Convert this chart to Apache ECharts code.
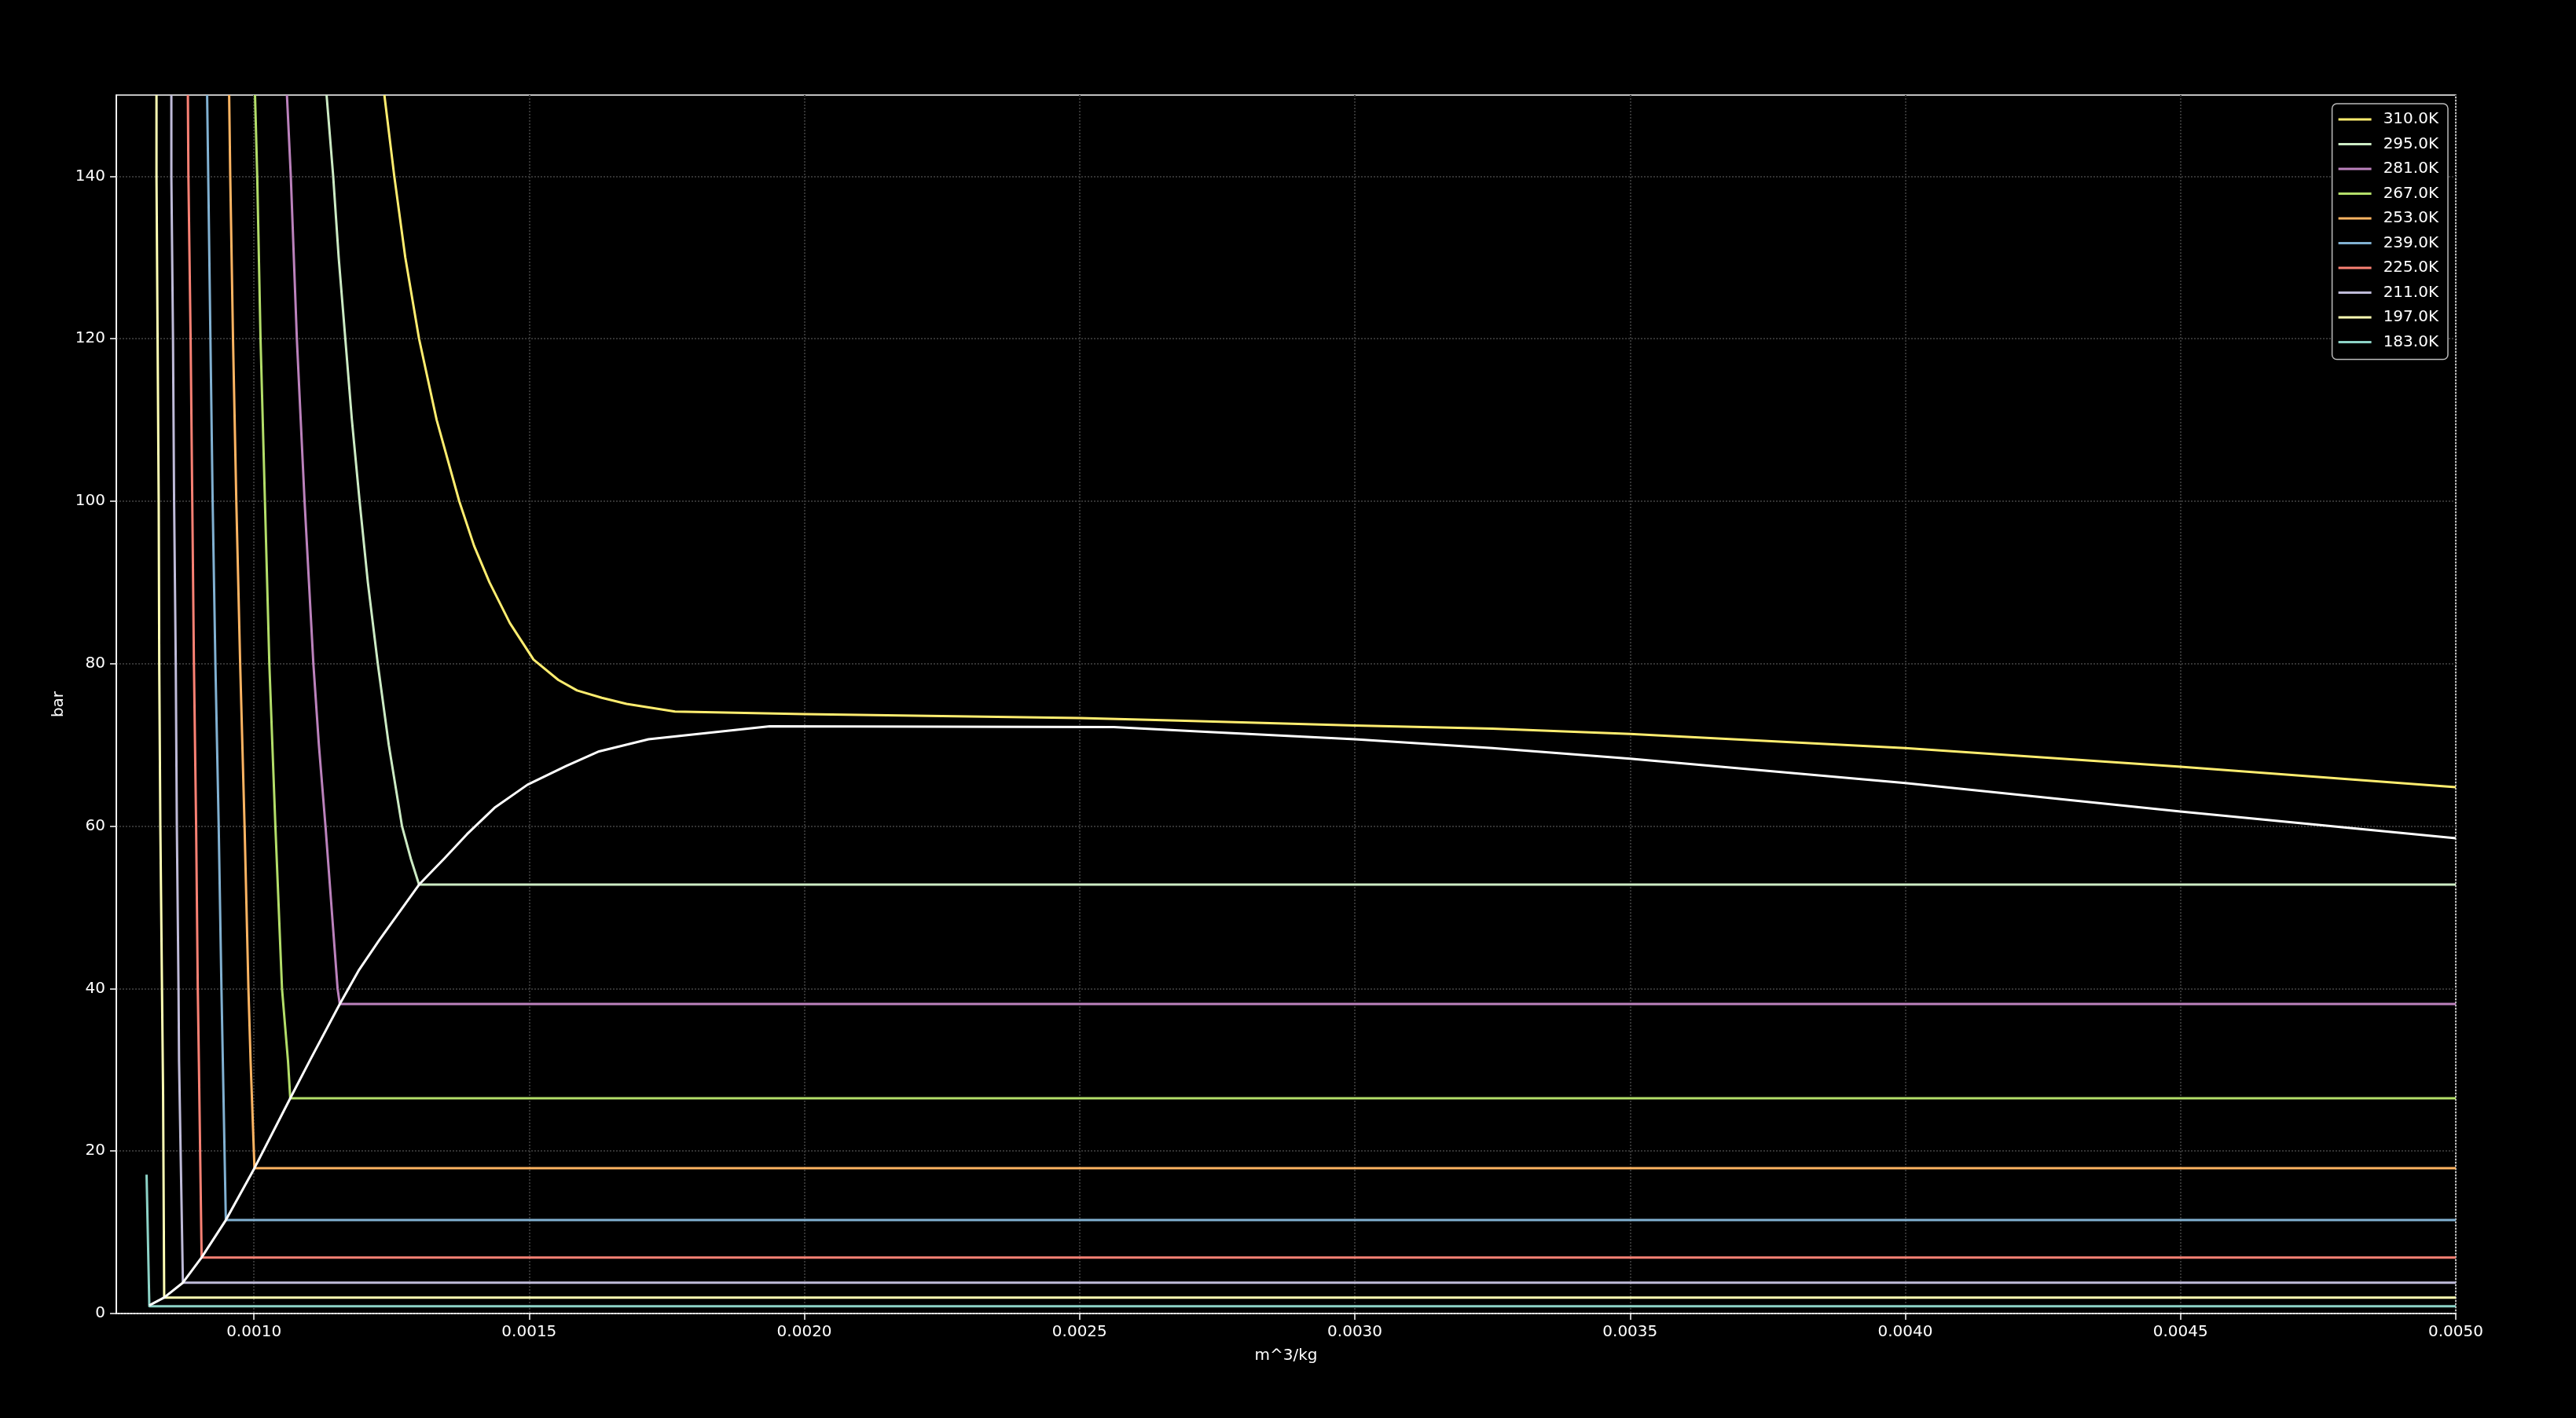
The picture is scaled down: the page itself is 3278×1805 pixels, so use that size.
<!DOCTYPE html>
<html>
<head>
<meta charset="utf-8">
<script src="https://cdn.jsdelivr.net/npm/echarts@6/dist/echarts.min.js"></script>
<style>
  html, body { margin: 0; padding: 0; background: #000; }
  #chart { width: 3278px; height: 1805px; }
</style>
</head>
<body>
<div id="chart"></div>
<script>
// isotherm names, in plotting order
const temps = ['183.0K', '197.0K', '211.0K', '225.0K', '239.0K', '253.0K', '267.0K', '281.0K', '295.0K', '310.0K'];
const palette = ['#8dd3c7', '#feffb3', '#bfbbd9', '#fa8174', '#81b1d2', '#fdb462', '#b3de69', '#bc82bd', '#ccebc4', '#ffed6f'];

// [specific volume m^3/kg, pressure bar]
const iso183 = [[0.000805, 17.1], [0.00081, 0.9], [0.005, 0.9]];
const iso197 = [[0.000823, 150], [0.000823, 140], [0.000825, 120], [0.000827, 100], [0.000828, 80], [0.00083, 60], [0.000833, 40], [0.000835, 27], [0.000837, 1.97], [0.005, 1.97]];
const iso211 = [[0.00085, 150], [0.00085, 140], [0.000853, 120], [0.000855, 100], [0.000858, 80], [0.00086, 60], [0.000863, 40], [0.000864, 31], [0.000871, 3.8], [0.005, 3.8]];
const iso225 = [[0.00088, 150], [0.000881, 140], [0.000885, 120], [0.000888, 100], [0.000891, 80], [0.000895, 60], [0.000898, 40], [0.0009, 31], [0.000905, 6.9], [0.005, 6.9]];
const iso239 = [[0.000915, 150], [0.000917, 140], [0.000921, 120], [0.000925, 100], [0.00093, 80], [0.000936, 60], [0.000941, 40], [0.000949, 11.5], [0.005, 11.5]];
const iso253 = [[0.000955, 150], [0.000957, 140], [0.000962, 120], [0.000968, 100], [0.000975, 80], [0.000983, 60], [0.00099, 40], [0.000994, 31], [0.001001, 17.9], [0.005, 17.9]];
const iso267 = [[0.001002, 150], [0.001006, 140], [0.001012, 120], [0.00102, 100], [0.001028, 80], [0.001039, 60], [0.001051, 40], [0.001062, 31], [0.001066, 26.5], [0.005, 26.5]];
const iso281 = [[0.00106, 150], [0.001067, 140], [0.001078, 120], [0.001085, 110], [0.001092, 100], [0.0011, 90], [0.001108, 80], [0.001118, 70],
  [0.00113, 60], [0.001141, 50], [0.001152, 40], [0.001156, 38.1], [0.005, 38.1]];
const iso295 = [[0.001132, 150], [0.001144, 140], [0.001154, 130], [0.001166, 120], [0.001178, 110], [0.001192, 100], [0.001207, 90],
  [0.001225, 80], [0.001245, 70], [0.001269, 60], [0.001285, 56], [0.0013, 52.8], [0.005, 52.8]];
const iso310 = [[0.001237, 150], [0.001255, 140], [0.001275, 130], [0.0013, 120], [0.001332, 110], [0.001373, 100], [0.0014, 94.5],
  [0.001428, 90], [0.001465, 85], [0.001508, 80.5], [0.001553, 78], [0.001587, 76.7], [0.001632, 75.8], [0.001677, 75.05], [0.001765, 74.1],
  [0.002, 73.8], [0.0025, 73.3], [0.002679, 73.0], [0.003, 72.4], [0.00325, 72.0], [0.0035, 71.35], [0.004, 69.6], [0.0045, 67.3], [0.005, 64.8]];

// saturation dome
const dome = [[0.00081, 1.0], [0.000837, 1.97], [0.000871, 3.8], [0.000905, 6.9], [0.000949, 11.5], [0.001001, 17.9],
  [0.001066, 26.5], [0.001102, 31.2], [0.001156, 38.1], [0.00119, 42.2], [0.001227, 45.9], [0.0013, 52.8], [0.001347, 56.1],
  [0.001387, 59.0], [0.001437, 62.25], [0.001497, 65.1], [0.001567, 67.4], [0.001627, 69.2], [0.001717, 70.7], [0.001937, 72.3],
  [0.002562, 72.2], [0.002735, 71.6], [0.003, 70.7], [0.00325, 69.6], [0.0035, 68.3], [0.004, 65.3], [0.0045, 61.8], [0.005, 58.5]];

const isotherms = [iso183, iso197, iso211, iso225, iso239, iso253, iso267, iso281, iso295, iso310];

const xTicks = [0.001, 0.0015, 0.002, 0.0025, 0.003, 0.0035, 0.004, 0.0045, 0.005];
const yTicks = [0, 20, 40, 60, 80, 100, 120, 140];

const font = 'DejaVu Sans';
const chart = echarts.init(document.getElementById('chart'));

const series = isotherms.map((d, i) => ({
  name: temps[i],
  type: 'line',
  data: d,
  symbol: 'none',
  color: palette[i],
  lineStyle: { width: 3, color: palette[i], join: 'round' },
  z: 2 + i
}));
series.push({
  name: 'dome',
  type: 'line',
  data: dome,
  symbol: 'none',
  color: '#ffffff',
  lineStyle: { width: 3, color: '#ffffff', join: 'round' },
  z: 20
});

chart.setOption({
  animation: false,
  backgroundColor: '#000000',
  textStyle: { fontFamily: font },
  grid: {
    left: 148, right: 153, top: 121, bottom: 133,
    show: true, borderColor: '#ffffff', borderWidth: 1.5, backgroundColor: 'transparent'
  },
  legend: {
    data: temps.slice().reverse(),
    orient: 'vertical',
    right: 163,
    top: 132,
    icon: 'rect',
    itemWidth: 42,
    itemHeight: 3,
    itemGap: 11.5,
    padding: [10, 12, 12, 8],
    backgroundColor: '#000000',
    borderColor: '#bbbbbb',
    borderWidth: 1.5,
    borderRadius: 6,
    textStyle: { color: '#ffffff', fontSize: 20, fontFamily: font, padding: [0, 0, 0, 10] }
  },
  xAxis: {
    type: 'value',
    min: 0.00075,
    max: 0.005,
    splitNumber: 8,
    name: 'm^3/kg',
    nameLocation: 'middle',
    nameGap: 44,
    nameTextStyle: { color: '#ffffff', fontSize: 20, fontFamily: font },
    axisLine: { onZero: false, lineStyle: { color: '#ffffff', width: 1.5 } },
    axisTick: { customValues: xTicks, length: 8, lineStyle: { color: '#ffffff', width: 1.5 } },
    axisLabel: {
      customValues: xTicks, color: '#ffffff', fontSize: 20, fontFamily: font, margin: 14,
      formatter: v => v.toFixed(4)
    },
    splitLine: { show: true, lineStyle: { color: '#333333', width: 2, type: 'dotted' } }
  },
  yAxis: {
    type: 'value',
    min: 0,
    max: 150,
    interval: 20,
    name: 'bar',
    nameLocation: 'middle',
    nameGap: 62,
    nameTextStyle: { color: '#ffffff', fontSize: 20, fontFamily: font },
    axisLine: { show: true, onZero: false, lineStyle: { color: '#ffffff', width: 1.5 } },
    axisTick: { show: true, customValues: yTicks, length: 8, lineStyle: { color: '#ffffff', width: 1.5 } },
    axisLabel: { customValues: yTicks, color: '#ffffff', fontSize: 20, fontFamily: font, margin: 14 },
    splitLine: { show: true, lineStyle: { color: '#333333', width: 2, type: 'dotted' } }
  },
  series: series
});
</script>
</body>
</html>
